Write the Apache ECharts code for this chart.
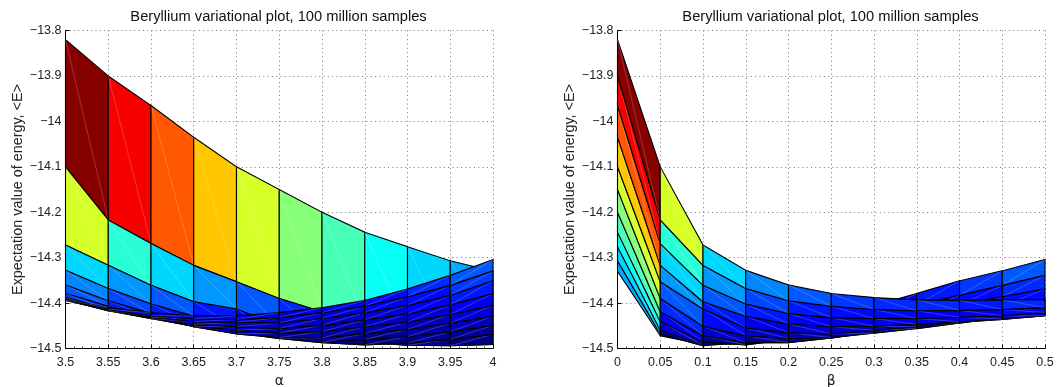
<!DOCTYPE html>
<html><head><meta charset="utf-8">
<style>html,body{margin:0;padding:0;background:#fff}#c{width:1058px;height:387px}</style>
<script src="https://cdn.jsdelivr.net/npm/echarts@6/dist/echarts.min.js"></script>
</head><body><div id="c"></div>
<script>
const alphas=[3.5,3.55,3.6,3.65,3.7,3.75,3.8,3.85,3.9,3.95,4];
const betas=[0,0.05,0.1,0.15,0.2,0.25,0.3,0.35,0.4,0.45,0.5];
const E350=[-13.82,-14.10,-14.272,-14.328,-14.36,-14.379,-14.388,-14.393,-14.394,-14.393,-14.392];
const E355=[-13.90,-14.217,-14.317,-14.368,-14.395,-14.407,-14.414,-14.417,-14.416,-14.414,-14.41];
const E360=[-13.965,-14.269,-14.361,-14.402,-14.423,-14.432,-14.434,-14.434,-14.431,-14.428,-14.421];
const E365=[-14.035,-14.317,-14.397,-14.429,-14.446,-14.452,-14.451,-14.447,-14.441,-14.435,-14.428];
const E370=[-14.10,-14.353,-14.413,-14.455,-14.465,-14.468,-14.46,-14.452,-14.442,-14.436,-14.428];
const E375=[-14.15,-14.39,-14.451,-14.472,-14.478,-14.476,-14.466,-14.456,-14.444,-14.432,-14.421];
const E380=[-14.20,-14.419,-14.472,-14.487,-14.487,-14.477,-14.463,-14.449,-14.434,-14.421,-14.41];
const E385=[-14.244,-14.441,-14.485,-14.492,-14.48,-14.467,-14.452,-14.437,-14.421,-14.407,-14.394];
const E390=[-14.276,-14.46,-14.493,-14.488,-14.474,-14.458,-14.442,-14.424,-14.405,-14.386,-14.369];
const E395=[-14.307,-14.468,-14.494,-14.48,-14.463,-14.444,-14.425,-14.404,-14.383,-14.361,-14.339];
const E400=[-14.33,-14.472,-14.491,-14.469,-14.449,-14.429,-14.405,-14.379,-14.351,-14.329,-14.304];
const energy=[E350,E355,E360,E365,E370,E375,E380,E385,E390,E395,E400];
const titleText='Beryllium variational plot, 100 million samples';
const yName='Expectation value of energy, <E>';

const FONT='"Liberation Sans", Arial, sans-serif';
const cMin=-14.5, cMax=-13.82;
function jet(v){
  let t=(v-cMin)/(cMax-cMin);
  t=Math.max(0,Math.min(0.9999,t));
  t=(Math.floor(t*64)+0.5)/64;
  const f=x=>Math.round(255*Math.max(0,Math.min(1,x)));
  return `rgb(${f(1.5-Math.abs(4*t-3))},${f(1.5-Math.abs(4*t-2))},${f(1.5-Math.abs(4*t-1))})`;
}
const cellsLeft=[],cellsRight=[];
for(let j=0;j<10;j++)for(let i=0;i<10;i++)cellsLeft.push([i,j]);
for(let i=9;i>=0;i--)for(let j=0;j<10;j++)cellsRight.push([i,j]);

function cellRenderer(useAlpha){
  return function(params,api){
    const i=api.value(0),j=api.value(1);
    const X=(a,b)=>useAlpha?alphas[a]:betas[b];
    const P=(a,b)=>api.coord([X(a,b),energy[a][b]]);
    const p=[P(i,j),P(i+1,j),P(i+1,j+1),P(i,j+1)];
    return {type:'group',children:[
      {type:'polygon',shape:{points:p},style:{fill:jet(energy[i][j]),stroke:'#000',lineWidth:1.1}},
      {type:'line',shape:{x1:p[0][0],y1:p[0][1],x2:p[2][0],y2:p[2][1]},style:{stroke:'rgba(255,255,255,0.25)',lineWidth:0.8}}
    ]};
  };
}
const grids=[{left:65.5,top:30.5,width:427.5,height:318,outerBoundsMode:'none'},{left:617.5,top:30.5,width:427.5,height:318,outerBoundsMode:'none'}];
function xAxis(idx,min,max,ticks,name,minorN){return {
  gridIndex:idx,type:'value',min,max,interval:ticks,
  name,nameLocation:'middle',nameGap:18,nameTextStyle:{fontFamily:'"DejaVu Sans"',fontSize:14,color:'#222'},
  axisLine:{onZero:false,lineStyle:{color:'#000',width:1}},
  axisTick:{inside:true,length:4,lineStyle:{color:'#000',width:1}},
  minorTick:{show:true,splitNumber:minorN,length:2,lineStyle:{color:'#000',width:0.7}},
  axisLabel:{fontFamily:FONT,fontSize:12.5,color:'#222',margin:8,showMinLabel:true,showMaxLabel:true,
    formatter:v=>String(+v.toFixed(2))},
  splitLine:{show:true,lineStyle:{color:'#666',type:[1,3.3],width:0.9}}
};}
function yAxis(idx){return {
  gridIndex:idx,type:'value',min:-14.5,max:-13.8,interval:0.1,
  name:yName,nameLocation:'middle',nameGap:40,nameTextStyle:{fontFamily:FONT,fontSize:14.4,color:'#222'},
  axisLine:{onZero:false,lineStyle:{color:'#000',width:1}},
  axisTick:{inside:true,length:4,lineStyle:{color:'#000',width:1}},
  axisLabel:{fontFamily:FONT,fontSize:12.5,color:'#222',margin:4,showMinLabel:true,showMaxLabel:true,
    formatter:v=>{const s=String(+Math.abs(v).toFixed(1));return '\u2212'+s;}},
  splitLine:{show:true,lineStyle:{color:'#666',type:[1,3.3],width:0.9}}
};}
const option={
  animation:false,backgroundColor:'#fff',
  title:[
    {text:titleText,left:273.5,top:4,textAlign:'center',textStyle:{fontFamily:FONT,fontSize:14.7,fontWeight:'normal',color:'#111'}},
    {text:titleText,left:825.5,top:4,textAlign:'center',textStyle:{fontFamily:FONT,fontSize:14.7,fontWeight:'normal',color:'#111'}}
  ],
  grid:grids,
  xAxis:[xAxis(0,3.5,4,0.05,'\u03b1',5),xAxis(1,0,0.5,0.05,'\u03b2',5)],
  yAxis:[yAxis(0),yAxis(1)],
  series:[
    {type:'custom',xAxisIndex:0,yAxisIndex:0,coordinateSystem:'cartesian2d',clip:false,silent:true,
     renderItem:cellRenderer(true),encode:{x:[],y:[]},data:cellsLeft},
    {type:'custom',xAxisIndex:1,yAxisIndex:1,coordinateSystem:'cartesian2d',clip:false,silent:true,
     renderItem:cellRenderer(false),encode:{x:[],y:[]},data:cellsRight}
  ]
};
echarts.init(document.getElementById('c'),null,{renderer:'canvas'}).setOption(option);
</script></body></html>
